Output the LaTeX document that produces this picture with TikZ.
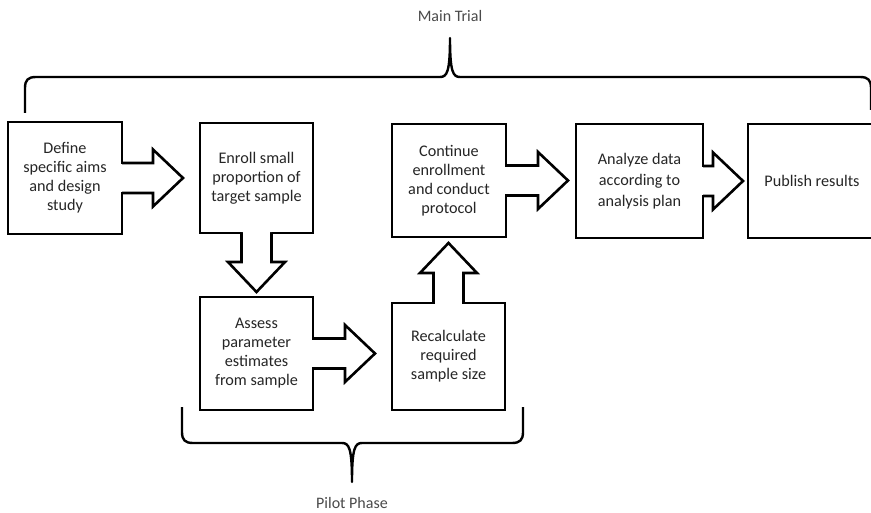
\documentclass[tikz,border=0pt]{standalone}
\usepackage{fontspec}
\setmainfont{Carlito}
\definecolor{txt}{HTML}{262626}
\definecolor{lbl}{HTML}{4a4a4a}
\tikzset{
  boxline/.style={line width=2.6pt, draw=black},
  stepbox/.style={boxline, fill=white, rectangle, inner sep=0pt, outer sep=0pt,
    align=center, text=txt, font=\fontsize{16.2}{19}\selectfont},
  bracepath/.style={line width=2.4pt, draw=black, line join=round},
  phaselabel/.style={text=lbl, font=\fontsize{16}{19}\selectfont, inner sep=0pt}
}
\newcommand{\barrow}[3]{%
  \begin{scope}[shift={(#1)}, rotate=#2]
    \fill[white] (-1.4,-13.6) rectangle (0.5,13.6);
    \fill[white] (0,-15) -- (#3,-15) -- (#3,-28.5) -- ({#3+30},0) -- (#3,28.5) -- (#3,15) -- (0,15) -- cycle;
    \draw[boxline, line join=miter] (0,15) -- (#3,15) -- (#3,28.5) -- ({#3+30},0) -- (#3,-28.5) -- (#3,-15) -- (0,-15);
  \end{scope}}
\begin{document}
\begin{tikzpicture}[x=1pt,y=1pt]
\useasboundingbox (0,0) rectangle (871,-513);
\clip (0,0) rectangle (871,-513);
\fill[white] (0,0) rectangle (871,-513);
% boxes
\node[stepbox, minimum width=114pt, minimum height=112pt] (b1) at (65,-178) {Define\\specific aims\\and design\\study};
\node[stepbox, minimum width=113pt, minimum height=110pt] (b2) at (256.5,-178) {Enroll small\\proportion of\\target sample};
\node[stepbox, minimum width=114pt, minimum height=113pt] (b3) at (449,-180.5) {Continue\\enrollment\\and conduct\\protocol};
\node[stepbox, minimum width=113pt, minimum height=113pt] (b4) at (256.5,-353.5) {Assess\\parameter\\estimates\\from sample};
\node[stepbox, minimum width=113pt, minimum height=107pt] (b5) at (448.5,-356.5) {Recalculate\\required\\sample size};
\node[stepbox, minimum width=127pt, minimum height=114pt, font=\fontsize{16.2}{21}\selectfont] (b6) at (639.5,-181) {Analyze data\\according to\\analysis plan};
\node[stepbox, minimum width=128pt, minimum height=114pt] (b7) at (812,-181) {Publish results};
% block arrows
\barrow{b1.east}{0}{31}
\barrow{b2.south}{-90}{29}
\barrow{b4.east}{0}{32}
\barrow{b5.north}{90}{30}
\barrow{b3.east}{0}{32}
\barrow{b6.east}{0}{10}
% main trial brace
\coordinate (mt) at (450,-38);
\draw[bracepath] (25,-113) -- (25,-88) .. controls (25,-80) and (28,-77) .. (36,-77)
  -- (440,-77) .. controls (447,-77) and (450,-72) .. (mt)
  .. controls (450,-72) and (453,-77) .. (460,-77)
  -- (860,-77) .. controls (868,-77) and (871,-80) .. (871,-88) -- (871,-110);
\node[phaselabel] (mainlbl) at (450,-16) {Main Trial};
% pilot phase brace
\coordinate (pp) at (352,-482);
\draw[bracepath] (182,-407) -- (182,-432) .. controls (182,-440) and (185,-443) .. (193,-443)
  -- (342,-443) .. controls (349,-443) and (352,-448) .. (pp)
  .. controls (352,-448) and (355,-443) .. (362,-443)
  -- (512,-443) .. controls (520,-443) and (523,-440) .. (523,-432) -- (523,-407);
\node[phaselabel] (pilotlbl) at (352,-503) {Pilot Phase};
\end{tikzpicture}
\end{document}
